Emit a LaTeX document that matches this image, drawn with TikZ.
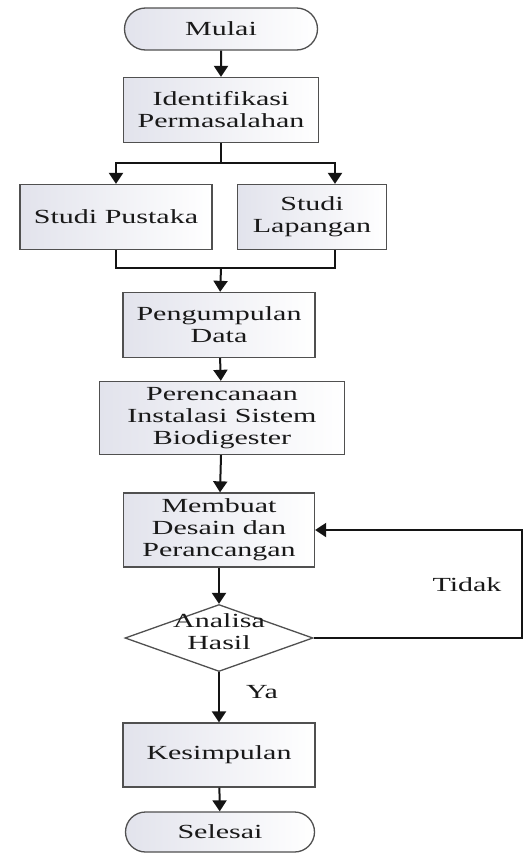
\documentclass[tikz,border=0pt]{standalone}
\usepackage{fontspec}
\setmainfont{Liberation Serif}[FakeStretch=1.5]
\usetikzlibrary{arrows.meta,shapes.geometric,shapes.misc}
\definecolor{fcline}{RGB}{80,80,80}
\definecolor{fcshade}{RGB}{226,227,236}
\definecolor{fctext}{RGB}{25,25,25}
\definecolor{fcarrow}{RGB}{20,20,20}

\begin{document}
\begin{tikzpicture}[x=1pt,y=-1pt,
  proc/.style={draw=fcline,line width=1.3pt,left color=fcshade,right color=white,minimum width=192pt,minimum height=65pt,align=center,inner sep=0pt,text=fctext,font=\fontsize{20}{22}\selectfont},
  term/.style={proc,rounded rectangle,minimum height=42pt},
  decision/.style={draw=fcline,line width=1.3pt,diamond,fill=white,minimum width=188pt,minimum height=67pt,inner sep=0pt},
  lbl/.style={align=center,inner sep=0pt,text=fctext,font=\fontsize{20}{22}\selectfont},
  line/.style={draw=fcarrow,line width=2pt},
  arr/.style={line,-{Triangle[length=11pt,width=14pt]}}]
  \useasboundingbox (0,0) rectangle (528,854);
  \node[term,minimum width=193pt] (mulai) at (221,29) {Mulai};
  \node[proc,minimum width=195pt] (ident) at (221,110) {Identifikasi\\Permasalahan};
  \node[proc] (pustaka) at (116,217) {Studi Pustaka};
  \node[proc,minimum width=149pt] (lapangan) at (312,217) {Studi\\Lapangan};
  \node[proc] (kumpul) at (219,325) {Pengumpulan\\Data};
  \node[proc,minimum width=245pt,minimum height=73pt] (rencana) at (222,418) {Perencanaan\\Instalasi Sistem\\Biodigester};
  \node[proc,minimum width=191pt,minimum height=74pt] (desain) at (219,530) {Membuat\\Desain dan\\Perancangan};
  \node[decision] (analisa) at (219,638) {};
  \node[lbl] (analisatxt) at (219,632) {Analisa\\Hasil};
  \node[proc,minimum height=64pt] (simpul) at (219,755) {Kesimpulan};
  \node[term,minimum width=189pt,minimum height=40pt] (selesai) at (220,832) {Selesai};
  % labels
  \node[lbl] (ya) at (262,692) {Ya};
  \node[lbl] (tidak) at (467,585) {Tidak};
  % branch and merge points
  \coordinate (split) at (221,163);
  \coordinate (join) at (221,268);
  \coordinate (loop) at (522,638);
  \draw[arr] (mulai) -- (ident);
  \draw[line] (ident) -- (split);
  \draw[arr] (split) -| (pustaka.north);
  \draw[arr] (split) -| ([xshift=23pt]lapangan.north);
  \draw[line] (pustaka.south) |- (join);
  \draw[line] ([xshift=23pt]lapangan.south) |- (join);
  \draw[arr] (join) -- (kumpul);
  \draw[arr] (kumpul) -- (rencana);
  \draw[arr] (rencana) -- (desain);
  \draw[arr] (desain) -- (analisa);
  \draw[arr] (analisa) -- (simpul);
  \draw[arr] (simpul) -- (selesai);
  \draw[arr] (analisa.east) -- (loop) |- (desain.east);
\end{tikzpicture}
\end{document}
